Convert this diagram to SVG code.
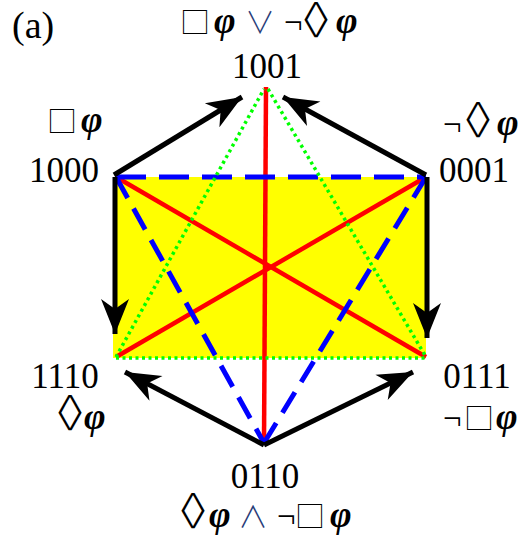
<svg xmlns="http://www.w3.org/2000/svg" width="526" height="540" viewBox="0 0 526 540">
<style>
text{font-family:"Liberation Serif","DejaVu Serif",serif;font-size:35px;fill:#000}
.sq{font-family:"Noto Sans CJK JP","Noto Sans CJK SC","DejaVu Sans",sans-serif;font-size:30px;font-weight:300}
.lz{font-family:"Noto Sans CJK JP","DejaVu Sans",sans-serif;font-size:46px;font-weight:200}
.ph{font-family:"Liberation Serif","DejaVu Serif",serif;font-style:italic;font-weight:bold;font-size:37px}
.ng{font-family:"Liberation Serif","DejaVu Serif",serif;font-size:33px}
.op{font-family:"Noto Sans CJK JP","Noto Sans CJK SC","DejaVu Sans",sans-serif;font-size:30px;font-weight:300;fill:#283c78}
.red{stroke:#ff0000;stroke-width:4.5;fill:none}
.blue{stroke:#0000ff;stroke-width:5;fill:none}
.green{stroke:#00ff00;stroke-width:3.5;fill:none;stroke-dasharray:3 3.5}
.arr{stroke:#000;stroke-width:5;fill:none;marker-end:url(#ah)}
</style>
<defs>
<marker id="ah" markerUnits="userSpaceOnUse" viewBox="-36 -15 37 30" refX="0" refY="0" markerWidth="37" markerHeight="30" orient="auto">
<path d="M0,0 L-35,-14 L-25,0 L-35,14 Z" fill="#000"/>
</marker>
</defs>
<rect x="113" y="177" width="313" height="181" fill="#ffff00"/>
<text x="12" y="38" style="font-size:38px">(a)</text>
<g id="connectors">
<line class="red" x1="266" y1="87" x2="264" y2="445"/>
<line class="red" x1="116" y1="177" x2="426" y2="357"/>
<line class="red" x1="426" y1="177" x2="116" y2="357"/>
<line class="blue" x1="116" y1="177" x2="426" y2="177" stroke-dasharray="30 13"/>
<line class="blue" x1="116" y1="177" x2="264" y2="443" stroke-dasharray="24 12"/>
<line class="blue" x1="426" y1="177" x2="264" y2="443" stroke-dasharray="24 12"/>
<line class="green" x1="116" y1="357" x2="264" y2="89"/>
<line class="green" x1="268" y1="89" x2="426" y2="357"/>
<line class="green" x1="116" y1="358" x2="426" y2="358"/>
<line class="arr" x1="114" y1="175" x2="242" y2="97"/>
<line class="arr" x1="426" y1="175" x2="283" y2="97"/>
<line class="arr" x1="115" y1="177" x2="115" y2="334"/>
<line class="arr" x1="427" y1="177" x2="427" y2="338"/>
<line class="arr" x1="264" y1="445" x2="125" y2="372"/>
<line class="arr" x1="264" y1="445" x2="413" y2="372"/>
</g>
<g id="n1001">
<text y="33"><tspan class="sq" x="180">□</tspan><tspan class="ph" x="214">φ</tspan><tspan class="op" x="245">∨</tspan><tspan class="ng" x="284">¬</tspan><tspan class="lz" x="293" y="36">◊</tspan><tspan class="ph" x="336" y="33">φ</tspan></text>
<text x="267" y="78" text-anchor="middle">1001</text>
</g>
<g id="n1000">
<text y="132"><tspan class="sq" x="47">□</tspan><tspan class="ph" x="81">φ</tspan></text>
<text x="64" y="182" text-anchor="middle">1000</text>
</g>
<g id="n0001">
<text y="135"><tspan class="ng" x="443">¬</tspan><tspan class="lz" x="455" y="136">◊</tspan><tspan class="ph" x="497" y="135">φ</tspan></text>
<text x="474" y="182" text-anchor="middle">0001</text>
</g>
<g id="n1110">
<text x="65" y="388" text-anchor="middle">1110</text>
<text y="429"><tspan class="lz" x="47">◊</tspan><tspan class="ph" x="84">φ</tspan></text>
</g>
<g id="n0111">
<text x="477" y="388" text-anchor="middle">0111</text>
<text y="429"><tspan class="ng" x="443">¬</tspan><tspan class="sq" x="464">□</tspan><tspan class="ph" x="496">φ</tspan></text>
</g>
<g id="n0110">
<text x="265" y="488" text-anchor="middle">0110</text>
<text y="527"><tspan class="lz" x="170">◊</tspan><tspan class="ph" x="209">φ</tspan><tspan class="op" x="238">∧</tspan><tspan class="ng" x="277">¬</tspan><tspan class="sq" x="295">□</tspan><tspan class="ph" x="330">φ</tspan></text>
</g>
</svg>
